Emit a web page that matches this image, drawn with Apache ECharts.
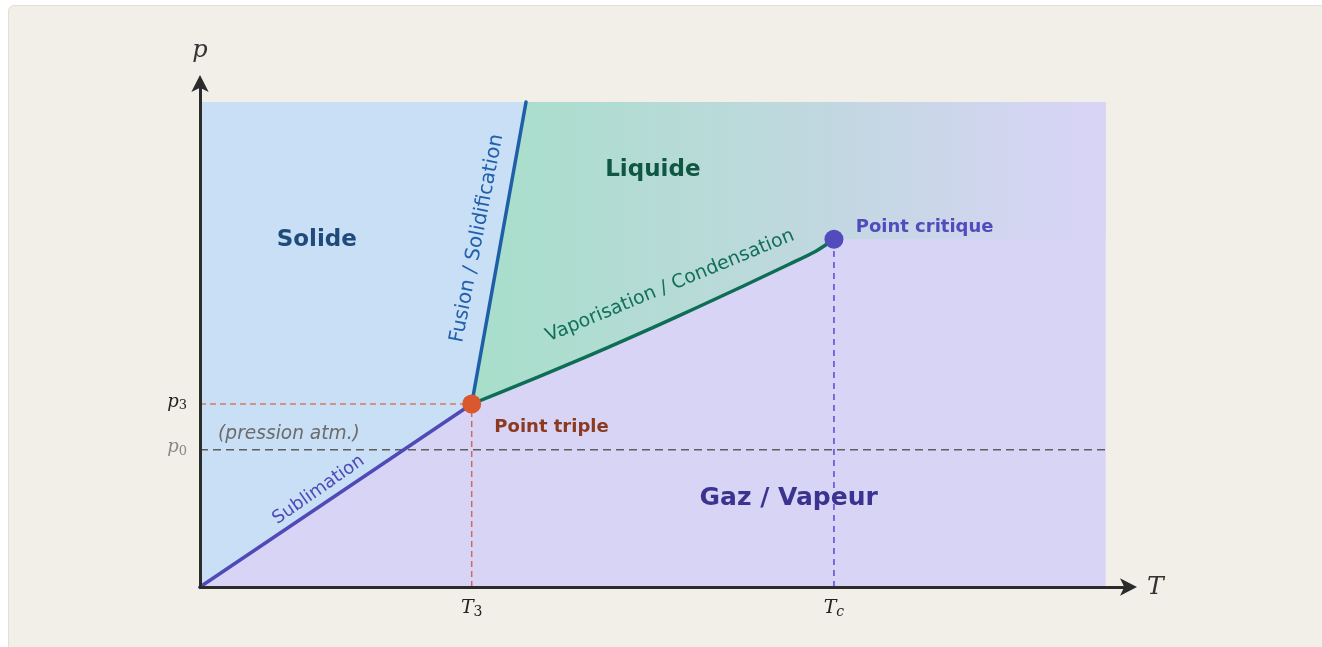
<!DOCTYPE html>
<html>
<head>
<meta charset="utf-8">
<script src="https://cdn.jsdelivr.net/npm/echarts@6/dist/echarts.min.js"></script>
<style>
  html, body { margin: 0; padding: 0; background: #fff; overflow: hidden; }
  #card { position: absolute; left: 8px; top: 5px; width: 1340px; height: 670px; background: #f2efe9; border: 1px solid #e3dfd7; border-radius: 6px; }
  #chart { position: absolute; left: 0; top: 0; width: 1322px; height: 647px; }
</style>
</head>
<body>
<div id="card"></div>
<div id="chart"></div>
<script>
// diagramme de phases (unités arbitraires)
const T3 = 3, Tc = 7
const p3 = 2, p0 = 1.5, pc = 3.8
const Tmax = 10, pmax = 5.3

const sublimation = [[0, 0], [T3, p3]]
const fusion = [[T3, p3], [3.6, pmax]]
const vaporisation = [[T3, p3], [3.5, 2.2], [4, 2.405], [4.5, 2.615], [5, 2.835], [5.5, 3.06], [6, 3.29], [6.5, 3.525], [6.8, 3.67], [Tc, pc]]

// textes : [texte, T, p, style, rotation en degrés]
const labels = [
  ['Solide', 1.29, 3.79, 'solid', 0],
  ['Liquide', 5.0, 4.56, 'liquid', 0],
  ['Gaz / Vapeur', 6.5, 0.97, 'gas', 0],
  ['Point triple', 3.25, 1.75, 'triple', 0],
  ['Point critique', 7.24, 3.93, 'critic', 0],
  ['(pression atm.)', 0.2, 1.67, 'atm', 0],
  ['Fusion / Solidification', 3.06, 3.81, 'fusion', 79],
  ['Vaporisation / Condensation', 5.19, 3.29, 'vapo', 22.5],
  ['Sublimation', 1.31, 1.06, 'subli', 35]
]
// [lettre, indice, valeur, indice en italique]
const tickLabelsT = [['T', '3', T3, false], ['T', 'c', Tc, true]]
const tickLabelsP = [['p', '3', p3, '#222'], ['p', '0', p0, '#888']]

const chart = echarts.init(document.getElementById('chart'))

const sans = '"DejaVu Sans", sans-serif'
const serif = '"DejaVu Serif", serif'
const styles = {
  solid: { fill: '#1f4b7c', font: 'bold 23px ' + sans, align: 'center' },
  liquid: { fill: '#0f5742', font: 'bold 23px ' + sans, align: 'center' },
  gas: { fill: '#3a338f', font: 'bold 25px ' + sans, align: 'center' },
  triple: { fill: '#8b3a1f', font: 'bold 18px ' + sans, align: 'left' },
  critic: { fill: '#524bbd', font: 'bold 18px ' + sans, align: 'left' },
  atm: { fill: '#6b6b6b', font: 'italic 18.6px ' + sans, align: 'left' },
  fusion: { fill: '#2160ad', font: '20px ' + sans, align: 'center' },
  vapo: { fill: '#11705a', font: '19px ' + sans, align: 'center' },
  subli: { fill: '#4f4ab8', font: '18px ' + sans, align: 'center' }
}

function regions(params, api) {
  const c = p => api.coord(p)
  const gas = [[0, 0], [Tmax, 0], [Tmax, pmax], [0, pmax]].map(c)
  const solid = [[0, 0], sublimation[1], fusion[1], [0, pmax]].map(c)
  const liquid = [fusion[0], fusion[1], [Tmax, pmax], [Tmax, pc]].concat(vaporisation.slice().reverse()).map(c)
  const x0 = c([T3, 0])[0], x1 = c([9.8, 0])[0]
  return {
    type: 'group',
    children: [
      { type: 'polygon', shape: { points: gas }, style: { fill: '#d8d4f6' } },
      { type: 'polygon', shape: { points: solid }, style: { fill: '#c8dff5' } },
      {
        type: 'polygon', shape: { points: liquid, smooth: 0 },
        style: {
          fill: new echarts.graphic.LinearGradient(x0, 0, x1, 0, [
            { offset: 0, color: '#a7dfca' },
            { offset: 0.55, color: '#c0d8df' },
            { offset: 1, color: '#d8d4f6' }
          ], true)
        }
      }
    ]
  }
}

function texts(params, api) {
  const children = labels.map(([t, x, y, k, r]) => {
    const pt = api.coord([x, y])
    return {
      type: 'text', x: pt[0], y: pt[1], rotation: r * Math.PI / 180,
      style: Object.assign({ text: t, verticalAlign: 'middle' }, styles[k])
    }
  })
  tickLabelsT.forEach(([a, b, v, it]) => {
    const pt = api.coord([v, 0])
    children.push({
      type: 'text', x: pt[0], y: pt[1] + 21,
      style: {
        text: '{a|' + a + '}{b|' + b + '}', align: 'center', verticalAlign: 'middle',
        rich: {
          a: { font: 'italic 19px ' + serif, fill: '#222' },
          b: { font: (it ? 'italic ' : '') + '14px ' + serif, fill: '#222', padding: [9, 0, 0, 0] }
        }
      }
    })
  })
  tickLabelsP.forEach(([a, b, v, col]) => {
    const pt = api.coord([0, v])
    children.push({
      type: 'text', x: pt[0] - 13, y: pt[1] - 2,
      style: {
        text: '{a|' + a + '}{b|' + b + '}', align: 'right', verticalAlign: 'middle',
        rich: {
          a: { font: 'italic 18px ' + serif, fill: col },
          b: { font: '13px ' + serif, fill: col, padding: [8, 0, 0, 0] }
        }
      }
    })
  })
  return { type: 'group', children }
}

function dashed(data, color, dash) {
  return {
    type: 'line', data, symbol: 'none', z: 3, silent: true,
    lineStyle: { color, width: 1.5, type: dash }
  }
}

function curve(data, color, width, smooth) {
  return {
    type: 'line', data, symbol: 'none', z: 4, silent: true,
    smooth: smooth || false,
    lineStyle: { color, width, cap: 'round' }
  }
}

const axisLine = {
  show: true, symbol: ['none', 'arrow'], symbolSize: [13, 17], symbolOffset: [0, 6],
  lineStyle: { color: '#2b2b2b', width: 3 }
}

chart.setOption({
  animation: false,
  grid: { left: 200, right: 191, top: 81, bottom: 60 },
  xAxis: {
    type: 'value', min: 0, max: 10.28, z: 10,
    name: 'T', nameLocation: 'end', nameGap: 16,
    nameTextStyle: { fontFamily: 'DejaVu Serif', fontStyle: 'italic', fontSize: 25, color: '#333', verticalAlign: 'middle' },
    axisLine, axisTick: { show: false }, axisLabel: { show: false }, splitLine: { show: false }
  },
  yAxis: {
    type: 'value', min: 0, max: 5.53, z: 10,
    name: 'p', nameLocation: 'end', nameGap: 18,
    nameTextStyle: { fontFamily: 'DejaVu Serif', fontStyle: 'italic', fontSize: 24, color: '#333', align: 'center' },
    axisLine, axisTick: { show: false }, axisLabel: { show: false }, splitLine: { show: false }
  },
  series: [
    { type: 'custom', renderItem: regions, data: [[0, 0]], z: 1, silent: true },
    dashed([[0, p0], [Tmax, p0]], '#5e5e5e', [8, 5]),
    dashed([[0, p3], [T3, p3]], '#d97a62', [6, 4]),
    dashed([[T3, 0], [T3, p3]], '#cc6a5e', [6, 4]),
    dashed([[Tc, 0], [Tc, pc]], '#5548d4', [6, 5]),
    curve(sublimation, '#4f4ab8', 3.5),
    curve(fusion, '#1f5fa8', 3.5),
    curve(vaporisation, '#0e6e55', 3.5, 0.3),
    {
      type: 'scatter', z: 5, silent: true, symbolSize: 19,
      data: [
        { value: [T3, p3], itemStyle: { color: '#d9582e', opacity: 1 } },
        { value: [Tc, pc], itemStyle: { color: '#524bbd', opacity: 1 } }
      ]
    },
    { type: 'custom', renderItem: texts, data: [[0, 0]], z: 6, silent: true }
  ]
})
</script>
</body>
</html>
